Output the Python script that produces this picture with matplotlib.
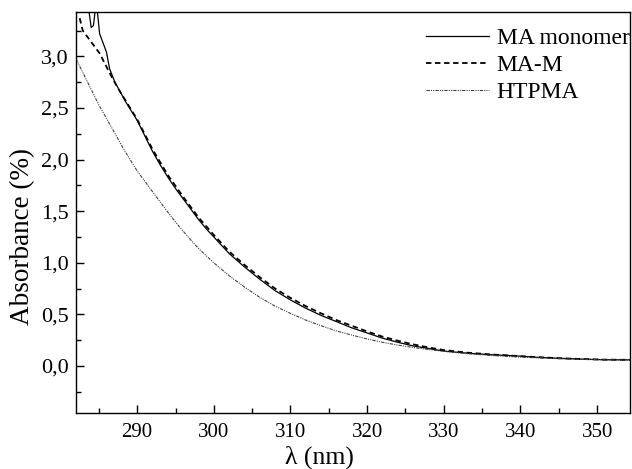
import matplotlib
matplotlib.use("Agg")
import matplotlib.pyplot as plt
from matplotlib.ticker import MultipleLocator, FuncFormatter

# ---- data ----
wl_mono = [283.6, 284.0, 284.3, 284.55, 284.8, 285.1, 285.6, 286.0, 286.4, 287.1, 288.5, 290, 291, 292,
           293, 294, 295, 296, 297, 298, 299, 300, 302, 304, 306, 308, 310, 312, 314, 316, 318, 320,
           322, 324, 326, 328, 330, 333, 336, 339, 342, 345, 348, 351, 354.5]
abs_mono = [3.50, 3.28, 3.30, 3.46, 3.44, 3.22, 3.12, 3.04, 2.88, 2.75, 2.56, 2.38, 2.23, 2.08,
            1.95, 1.83, 1.72, 1.62, 1.52, 1.42, 1.33, 1.25, 1.09, 0.96, 0.84, 0.73, 0.64, 0.56, 0.49, 0.43, 0.37, 0.32,
            0.27, 0.23, 0.195, 0.17, 0.145, 0.125, 0.11, 0.10, 0.085, 0.075, 0.067, 0.061, 0.06]

wl_mam = [282.5, 282.9, 283.8, 285.1, 286.4, 287.5, 288.5, 290, 292, 294, 296, 298,
          300, 302, 304, 306, 308, 310, 312, 314, 316, 318, 320, 322, 324, 326, 328, 330,
          333, 336, 339, 342, 345, 348, 351, 354.5]
abs_mam = [3.37, 3.25, 3.16, 3.03, 2.84, 2.69, 2.57, 2.39, 2.10, 1.85, 1.64, 1.44,
           1.27, 1.11, 0.98, 0.86, 0.75, 0.66, 0.58, 0.51, 0.445, 0.39, 0.335, 0.285, 0.245, 0.21, 0.18, 0.155,
           0.13, 0.113, 0.10, 0.087, 0.076, 0.068, 0.062, 0.06]

wl_htp = [282, 283, 284, 285, 286.3, 287.5, 288.5, 290, 291.5, 292.8, 294, 295.5, 297, 298,
          300, 302, 304, 306, 308, 310, 312, 314, 316, 318, 320, 322, 324, 326, 328, 330,
          333, 336, 339, 342, 345, 348, 351, 354.5]
abs_htp = [2.98, 2.83, 2.68, 2.53, 2.36, 2.20, 2.07, 1.89, 1.74, 1.61, 1.49, 1.35, 1.22, 1.14,
           1.00, 0.875, 0.765, 0.665, 0.58, 0.51, 0.445, 0.39, 0.34, 0.30, 0.262, 0.23, 0.203, 0.18, 0.16, 0.142,
           0.12, 0.103, 0.09, 0.08, 0.071, 0.065, 0.06, 0.058]

labels = ["MA monomer", "MA-M", "HTPMA"]

plt.rcParams['font.family'] = ['Liberation Serif', 'DejaVu Serif']

fig = plt.figure(figsize=(6.32, 4.69), dpi=100)
ax = fig.add_axes([0.120, 0.1194, 0.877, 0.8550])

ax.plot(wl_mono, abs_mono, color='black', lw=0.9, ls='-', label=labels[0])
ax.plot(wl_mam, abs_mam, color='black', lw=1.3, ls=(0, (3, 2)), label=labels[1])
ax.plot(wl_htp, abs_htp, color='#444444', lw=0.8, ls=(0, (3, 1, 1, 1, 1, 1)), label=labels[2])

ax.set_xlim(282, 354.3)
ax.set_ylim(-0.455, 3.43)

ax.xaxis.set_major_locator(MultipleLocator(10))
ax.xaxis.set_minor_locator(MultipleLocator(5))
ax.yaxis.set_major_locator(MultipleLocator(0.5))
ax.yaxis.set_minor_locator(MultipleLocator(0.25))
ax.yaxis.set_major_formatter(FuncFormatter(lambda v, p: f"{v:.1f}".replace('.', ',').replace('-0,0', '0,0')))

ax.tick_params(which='both', direction='in', width=1)
ax.tick_params(axis='y', labelsize=16, pad=5)
ax.tick_params(axis='x', labelsize=15, pad=7)
ax.tick_params(which='major', length=6)
ax.tick_params(which='minor', length=3.5)
for s in ax.spines.values():
    s.set_linewidth(1.0)

ax.set_xlabel("λ (nm)", fontsize=18.5)
ax.xaxis.set_label_coords(0.44, -0.08)
ax.set_ylabel("Absorbance (%)", fontsize=19.5)
ax.yaxis.set_label_coords(-0.074, 0.44)

leg = ax.legend(loc='upper left', bbox_to_anchor=(0.6155, 0.985), frameon=False, fontsize=17,
                handlelength=2.67, handletextpad=0.3, labelspacing=0.24, borderaxespad=0)

fig.savefig("out.png", dpi=100)
